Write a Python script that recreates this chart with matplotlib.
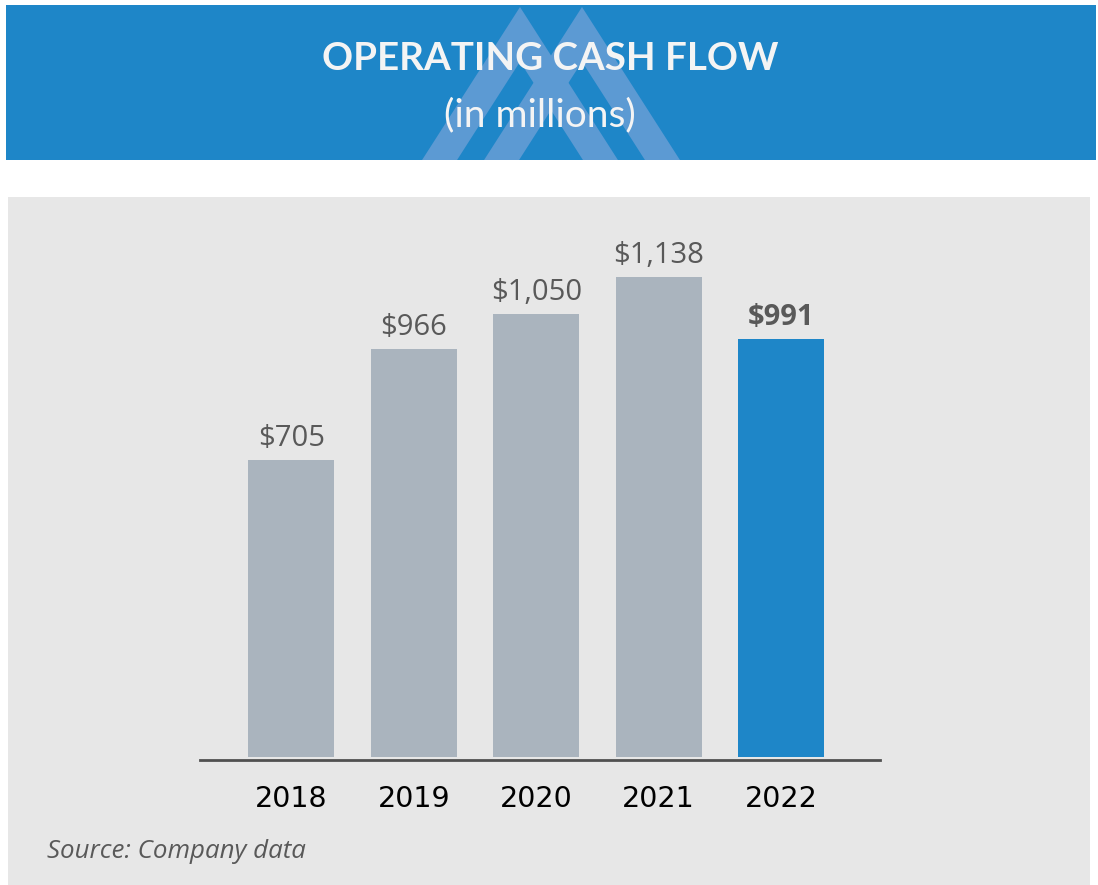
import matplotlib
matplotlib.use("Agg")
import matplotlib.pyplot as plt
from matplotlib.patches import Rectangle, Polygon

#------data
years = ["2018", "2019", "2020", "2021", "2022"]
cash_flow = [705, 966, 1050, 1138, 991]
labels = ["$705", "$966", "$1,050", "$1,138", "$991"]
highlight = "2022"

title = "OPERATING CASH FLOW"
subtitle = "(in millions)"
source = "Source: Company data"

#------colours
blue = "#1E86C8"
chevron_blue = "#5C9AD3"
panel_gray = "#E7E7E7"
bar_gray = "#AAB4BE"
label_gray = "#595959"

W, H = 1098, 885
fig = plt.figure(figsize=(W / 100, H / 100), dpi=100)
fig.patch.set_facecolor("white")

#------background layer in pixel coords
bg = fig.add_axes([0, 0, 1, 1])
bg.set_xlim(0, W)
bg.set_ylim(H, 0)
bg.axis("off")

bg.add_patch(Rectangle((6, 5), 1090, 155, color=blue, lw=0))

# two overlapping chevrons (logo watermark)
k, t, top, bot = 0.64, 35, 7, 160
for apex in (520, 582):
    span = k * (bot - top)
    pts = [(apex, top), (apex + span, bot), (apex + span - t, bot),
           (apex, top + t / k), (apex - span + t, bot), (apex - span, bot)]
    bg.add_patch(Polygon(pts, closed=True, color=chevron_blue, lw=0))

bg.text(550, 59, title, color="#F4F4F4", fontsize=27.7, fontweight="bold",
        family="Lato", ha="center", va="center")
bg.text(540, 115, subtitle, color="#F4F4F4", fontsize=28,
        family="Lato", ha="center", va="center")

bg.add_patch(Rectangle((8, 197), 1082, 688, color=panel_gray, lw=0))
bg.text(47, 852, source, color=label_gray, fontsize=18.6, style="italic",
        family="Open Sans", ha="left", va="center")

#------bar chart
ax = fig.add_axes([200 / W, (H - 757) / H, 680 / W, 557 / H])
ax.patch.set_alpha(0)
x = list(range(len(years)))
colors = [blue if y == highlight else bar_gray for y in years]
bars = ax.bar(x, cash_flow, width=0.70, color=colors)

ax.set_xlim(-0.745, 4.807)
ax.set_ylim(0, 1320)

for rect, lab, y in zip(bars, labels, years):
    bold = y == highlight
    ax.annotate(lab, (rect.get_x() + rect.get_width() / 2, rect.get_height()),
                xytext=(0, 5), textcoords="offset points", ha="center", va="bottom",
                fontsize=21, family="Open Sans", color=label_gray,
                fontweight="bold" if bold else "normal")

ax.set_xticks(x)
ax.set_xticklabels(years)
ax.tick_params(axis="x", length=0, pad=18, labelsize=20.5, labelcolor="black")
for lab in ax.get_xticklabels():
    lab.set_family("Open Sans")
ax.set_yticks([])
for s in ["top", "right", "left"]:
    ax.spines[s].set_visible(False)
ax.spines["bottom"].set_position(("outward", 2))
ax.spines["bottom"].set_color("#505050")
ax.spines["bottom"].set_linewidth(2)

plt.savefig("out.png", dpi=100)
